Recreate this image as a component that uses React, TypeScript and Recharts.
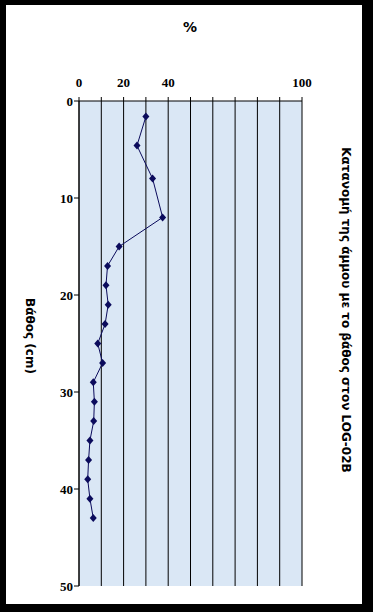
import React from 'react';
import {
  ScatterChart,
  Scatter,
  XAxis,
  YAxis,
  CartesianGrid,
} from 'recharts';

// depth (cm) of each sample and its sand content (%)
const depths = [1.6, 4.6, 8, 12, 15, 17, 19, 21, 23, 25, 27, 29, 31, 33, 35, 37, 39, 41, 43];
const sand = [30, 26, 33, 37.5, 18, 12.8, 12.1, 13.1, 11.7, 8.4, 10.6, 6.4, 6.9, 6.6, 4.9, 4.3, 3.9, 4.9, 6.4];

const xTicks = [0, 10, 20, 30, 40, 50, 60, 70, 80, 90, 100];
const xLabelled = [0, 20, 40, 100];
const yTicks = [0, 10, 20, 30, 40, 50];

const chartData = depths.map((d, i) => ({ depth: d, sand: sand[i] }));

const navy = '#0b0b5c';

const tickFont = {
  fontFamily: '"Liberation Serif", serif',
  fontWeight: 'bold' as const,
  fontSize: 13,
  fill: '#000',
};

// small diamond marker like the excel one
const Diamond = (props: any) => {
  const { cx, cy } = props;
  if (cx == null || cy == null) return null;
  return (
    <polygon
      points={`${cx},${cy - 4} ${cx + 3.5},${cy} ${cx},${cy + 4} ${cx - 3.5},${cy}`}
      fill={navy}
    />
  );
};

const App: React.FC = () => {
  return (
    <div style={{ position: 'absolute', left: 0, top: 0, width: 373, height: 612, background: '#000' }}>
      <div style={{ position: 'absolute', left: 6, top: 5, width: 356, height: 599, background: '#fff' }} />
      <div style={{ position: 'absolute', left: 0, top: 0 }}>
        <ScatterChart
          width={373}
          height={612}
          margin={{ top: 71, right: 71, left: 39, bottom: 26 }}
        >
          <CartesianGrid
            horizontal={false}
            stroke="#000"
            fill="#dae7f5"
            fillOpacity={1}
          />
          <XAxis
            type="number"
            dataKey="sand"
            orientation="top"
            domain={[0, 100]}
            ticks={xTicks}
            tickFormatter={(v: number) => (xLabelled.includes(v) ? String(v) : '')}
            height={30}
            tickSize={4}
            tickMargin={10}
            stroke="#000"
            tick={tickFont}
            interval={0}
          />
          <YAxis
            type="number"
            dataKey="depth"
            reversed
            domain={[0, 50]}
            ticks={yTicks}
            width={40}
            tickSize={5}
            tickMargin={1}
            stroke="#000"
            tick={tickFont}
            interval={0}
          />
          <Scatter
            data={chartData}
            fill={navy}
            shape={<Diamond />}
            line={{ stroke: navy, strokeWidth: 1 }}
            lineJointType="linear"
            isAnimationActive={false}
          />
        </ScatterChart>
      </div>
      <div
        style={{
          position: 'absolute', left: 150, top: 19, width: 80, textAlign: 'center',
          fontFamily: '"DejaVu Sans", sans-serif', fontWeight: 'bold', fontSize: 14,
        }}
      >
        %
      </div>
      <div
        style={{
          position: 'absolute', left: 30, top: 336, width: 0, height: 0,
        }}
      >
        <div
          style={{
            position: 'absolute', left: -100, top: -8, width: 200, textAlign: 'center',
            transform: 'rotate(90deg)',
            fontFamily: '"DejaVu Sans", sans-serif', fontWeight: 'bold', fontSize: 12,
            lineHeight: '16px', whiteSpace: 'nowrap',
          }}
        >
          Βάθος (cm)
        </div>
      </div>
      <div
        style={{
          position: 'absolute', left: 346, top: 310, width: 0, height: 0,
        }}
      >
        <div
          style={{
            position: 'absolute', left: -250, top: -8, width: 500, textAlign: 'center',
            transform: 'rotate(90deg)',
            fontFamily: '"DejaVu Sans", sans-serif', fontWeight: 'bold', fontSize: 12,
            lineHeight: '16px', whiteSpace: 'nowrap',
          }}
        >
          Κατανομή της άμμου με το βάθος στον LOG-02B
        </div>
      </div>
    </div>
  );
};

export default App;
